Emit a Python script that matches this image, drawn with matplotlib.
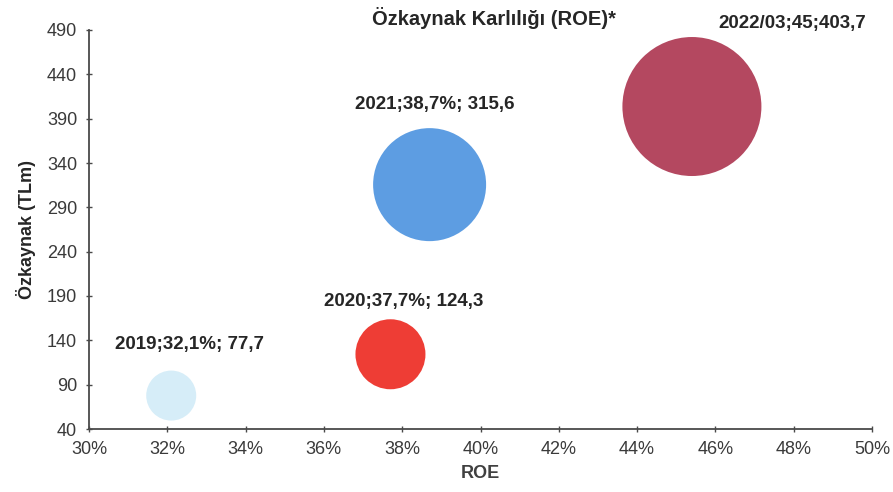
import matplotlib
matplotlib.use("Agg")
import matplotlib.pyplot as plt
from matplotlib.ticker import FuncFormatter

plt.rcParams['font.family'] = ['Liberation Sans', 'DejaVu Sans']

# ---- data ----
years = ["2019", "2020", "2021", "2022/03"]
roe = [32.1, 37.7, 38.7, 45.4]          # plotted ROE (%)
roe_label = ["32,1%", "37,7%", "38,7%", "45"]
equity = [77.7, 124.3, 315.6, 403.7]    # TL m
equity_label = ["77,7", "124,3", "315,6", "403,7"]
bubble_diam_px = [50, 70, 113, 139]     # read bubble diameters
colors = ["#d6edf8", "#ee3d35", "#5d9de2", "#b44860"]
x_ticks = [30, 32, 34, 36, 38, 40, 42, 44, 46, 48, 50]
y_ticks = [40, 90, 140, 190, 240, 290, 340, 390, 440, 490]

label_sep = ["; ", "; ", "; ", ";"]
# label offsets (pixels) relative to bubble centre
label_off = [(18, 51), (13, 53), (5, 80), (100, 83)]

W, H = 893, 492
fig = plt.figure(figsize=(W / 100, H / 100), dpi=100)
ax = fig.add_axes([89 / W, 63 / H, (872 - 89) / W, (429 - 30) / H])

px2pt = 72 / 100
sizes = [(d * px2pt) ** 2 for d in bubble_diam_px]
ax.scatter(roe, equity, s=sizes, c=colors, edgecolors='none', zorder=3)

for i in range(len(years)):
    txt = f"{years[i]};{roe_label[i]}{label_sep[i]}{equity_label[i]}"
    dx, dy = label_off[i]
    ax.annotate(txt, (roe[i], equity[i]), xytext=(dx * px2pt, dy * px2pt),
                textcoords='offset points', ha='center', va='center',
                fontsize=13.5, fontweight='bold', color='#262626', zorder=4)

ax.set_xlim(x_ticks[0], x_ticks[-1])
ax.set_ylim(y_ticks[0], y_ticks[-1])
ax.set_xticks(x_ticks)
ax.set_yticks(y_ticks)
ax.xaxis.set_major_formatter(FuncFormatter(lambda v, p: f"{v:.0f}%"))

for s in ['top', 'right']:
    ax.spines[s].set_visible(False)
for s in ['left', 'bottom']:
    ax.spines[s].set_color('#4a4a4a')
    ax.spines[s].set_linewidth(1.3)

ax.tick_params(axis='both', direction='inout', length=5, width=1,
               color='#4a4a4a', labelsize=13, labelcolor='#3a3a3a', pad=6)

ax.set_xlabel("ROE", fontsize=13, fontweight='bold', color='#404040', labelpad=5)
ax.set_ylabel("Özkaynak (TLm)", fontsize=13, fontweight='bold', color='#262626', labelpad=8)

fig.text(494 / W, 1 - 18 / H, "Özkaynak Karlılığı (ROE)*", ha='center', va='center',
         fontsize=14.5, fontweight='bold', color='#262626')

fig.savefig("out.png", dpi=100, facecolor='white')
